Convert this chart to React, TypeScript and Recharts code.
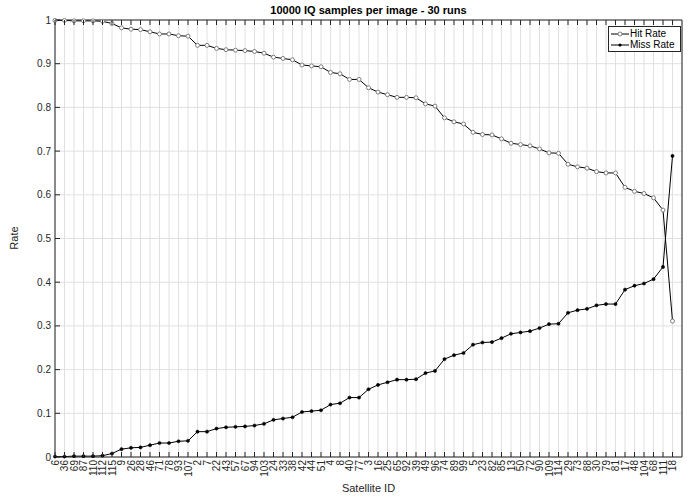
import React from 'react';
import { LineChart, Line, XAxis, YAxis, CartesianGrid } from 'recharts';

// satellite IDs, sorted by hit rate
const satelliteIds = [
    '6', '36', '69', '87', '110', '112', '115', '9', '26', '28', '46', '71', '78', '93', '107',
    '2', '7', '22', '43', '57', '67', '94', '103', '24', '33', '38', '42', '44', '51', '4',
    '8', '40', '77', '3', '16', '25', '65', '92', '39', '49', '96', '74', '89', '99', '5',
    '23', '82', '85', '13', '50', '72', '90', '109', '114', '29', '73', '88', '30', '79', '81',
    '17', '48', '104', '68', '111', '18',
];

const hitRate = [
    0.999, 0.999, 0.998, 0.998, 0.998, 0.997, 0.992, 0.982, 0.979, 0.978, 0.973, 0.968, 0.968, 0.964, 0.963,
    0.942, 0.942, 0.935, 0.932, 0.931, 0.930, 0.928, 0.924, 0.915, 0.912, 0.909, 0.897, 0.895, 0.893, 0.880,
    0.877, 0.864, 0.864, 0.845, 0.835, 0.829, 0.823, 0.823, 0.822, 0.808, 0.803, 0.776, 0.767, 0.762, 0.743,
    0.738, 0.737, 0.728, 0.718, 0.715, 0.712, 0.705, 0.696, 0.695, 0.670, 0.664, 0.661, 0.653, 0.650, 0.650,
    0.617, 0.608, 0.603, 0.593, 0.565, 0.311,
];

const missRate = [
    0.001, 0.001, 0.002, 0.002, 0.002, 0.003, 0.008, 0.018, 0.021, 0.022, 0.027, 0.032, 0.032, 0.036, 0.037,
    0.058, 0.058, 0.065, 0.068, 0.069, 0.070, 0.072, 0.076, 0.085, 0.088, 0.091, 0.103, 0.105, 0.107, 0.120,
    0.123, 0.136, 0.136, 0.155, 0.165, 0.171, 0.177, 0.177, 0.178, 0.192, 0.197, 0.224, 0.233, 0.238, 0.257,
    0.262, 0.263, 0.272, 0.282, 0.285, 0.288, 0.295, 0.304, 0.305, 0.330, 0.336, 0.339, 0.347, 0.350, 0.350,
    0.383, 0.392, 0.397, 0.407, 0.435, 0.689,
];

const yTicks = [0, 0.1, 0.2, 0.3, 0.4, 0.5, 0.6, 0.7, 0.8, 0.9, 1];
const xTicks = satelliteIds.map((_, i) => i + 1);

const data = satelliteIds.map((id, i) => ({ idx: i + 1, id, hit: hitRate[i], miss: missRate[i] }));

const FONT = '"Liberation Sans", Arial, Helvetica, sans-serif';
const AXIS = '#262626';

const fmtY = (v: number) => (v === 0 || v === 1 ? String(v) : v.toFixed(1));

const BottomTick = (props: any) => {
    const { x, y, payload } = props;
    const ty = y + 3;
    return (
        <g>
            <line x1={x} x2={x} y1={y} y2={y - 5} stroke={AXIS} />
            <text
                x={x}
                y={ty}
                transform={`rotate(-90 ${x} ${ty})`}
                textAnchor="end"
                dy="0.35em"
                fontSize={10}
                fontFamily={FONT}
                fill={AXIS}
            >
                {satelliteIds[payload.value - 1]}
            </text>
        </g>
    );
};

const TopTick = (props: any) => {
    const { x, y } = props;
    return <line x1={x} x2={x} y1={y} y2={y + 5} stroke={AXIS} />;
};

const LeftTick = (props: any) => {
    const { x, y, payload } = props;
    return (
        <g>
            <line x1={x} x2={x + 5} y1={y} y2={y} stroke={AXIS} />
            <text x={x - 4} y={y} dy="0.35em" textAnchor="end" fontSize={10} fontFamily={FONT} fill={AXIS}>
                {fmtY(payload.value)}
            </text>
        </g>
    );
};

const RightTick = (props: any) => {
    const { x, y } = props;
    return <line x1={x} x2={x - 5} y1={y} y2={y} stroke={AXIS} />;
};

const LegendBox = () => (
    <div
        style={{
            position: 'absolute',
            top: 26,
            left: 608,
            border: `1px solid ${AXIS}`,
            background: '#fff',
            fontFamily: FONT,
            fontSize: 10,
            color: '#000',
            padding: '1px 3px 1px 2px',
            width: 66,
            lineHeight: '11px',
        }}
    >
        <div style={{ display: 'flex', alignItems: 'center' }}>
            <svg width={18} height={10} style={{ marginRight: 1 }}>
                <line x1={0} x2={18} y1={5} y2={5} stroke="#000" />
                <circle cx={9} cy={5} r={2} fill="#fff" stroke="#7f7f7f" />
            </svg>
            Hit Rate
        </div>
        <div style={{ display: 'flex', alignItems: 'center' }}>
            <svg width={18} height={10} style={{ marginRight: 1 }}>
                <line x1={0} x2={18} y1={5} y2={5} stroke="#000" />
                <circle cx={9} cy={5} r={1.6} fill="#000" />
            </svg>
            Miss Rate
        </div>
    </div>
);

const App: React.FC = () => {
    return (
        <div style={{ position: 'absolute', left: 0, top: 0, width: 689, height: 497, background: '#fff' }}>
            <LineChart width={689} height={497} data={data} margin={{ top: 0, right: 0, left: 0, bottom: 0 }}>
                <CartesianGrid stroke="#e0e0e0" strokeWidth={1} />
                <XAxis
                    dataKey="idx"
                    type="number"
                    domain={[1, 67]}
                    ticks={xTicks}
                    interval={0}
                    height={40}
                    tickSize={0}
                    tickMargin={0}
                    tickLine={false}
                    axisLine={{ stroke: AXIS }}
                    tick={<BottomTick />}
                />
                <XAxis
                    xAxisId="top"
                    dataKey="idx"
                    type="number"
                    orientation="top"
                    domain={[1, 67]}
                    ticks={xTicks}
                    interval={0}
                    height={20}
                    tickSize={0}
                    tickMargin={0}
                    tickLine={false}
                    axisLine={{ stroke: AXIS }}
                    tick={<TopTick />}
                />
                <YAxis
                    type="number"
                    domain={[0, 1]}
                    ticks={yTicks}
                    interval={0}
                    width={55}
                    tickSize={0}
                    tickMargin={0}
                    tickLine={false}
                    axisLine={{ stroke: AXIS }}
                    tick={<LeftTick />}
                />
                <YAxis
                    yAxisId="right"
                    type="number"
                    orientation="right"
                    domain={[0, 1]}
                    ticks={yTicks}
                    interval={0}
                    width={7}
                    tickSize={0}
                    tickMargin={0}
                    tickLine={false}
                    axisLine={{ stroke: AXIS }}
                    tick={<RightTick />}
                />
                <Line
                    type="linear"
                    dataKey="hit"
                    name="Hit Rate"
                    stroke="#000"
                    strokeWidth={1}
                    dot={{ r: 2, fill: '#fff', stroke: '#7f7f7f', strokeWidth: 1 }}
                    activeDot={false}
                    isAnimationActive={false}
                />
                <Line
                    type="linear"
                    dataKey="miss"
                    name="Miss Rate"
                    stroke="#000"
                    strokeWidth={1}
                    dot={{ r: 1.6, fill: '#000', stroke: '#000', strokeWidth: 0.5 }}
                    activeDot={false}
                    isAnimationActive={false}
                />
            </LineChart>
            <LegendBox />
            <div
                style={{
                    position: 'absolute', top: 3, left: 55, width: 627, textAlign: 'center',
                    fontFamily: FONT, fontSize: 11, fontWeight: 'bold', lineHeight: '14px', color: '#000',
                }}
            >
                10000 IQ samples per image - 30 runs
            </div>
            <div
                style={{
                    position: 'absolute', top: 481, left: 55, width: 627, textAlign: 'center',
                    fontFamily: FONT, fontSize: 11, lineHeight: '14px', color: AXIS,
                }}
            >
                Satellite ID
            </div>
            <div
                style={{
                    position: 'absolute', left: 14, top: 238, transform: 'translate(-50%, -50%) rotate(-90deg)',
                    fontFamily: FONT, fontSize: 11, lineHeight: '14px', color: AXIS, whiteSpace: 'nowrap',
                }}
            >
                Rate
            </div>
        </div>
    );
};

export default App;
